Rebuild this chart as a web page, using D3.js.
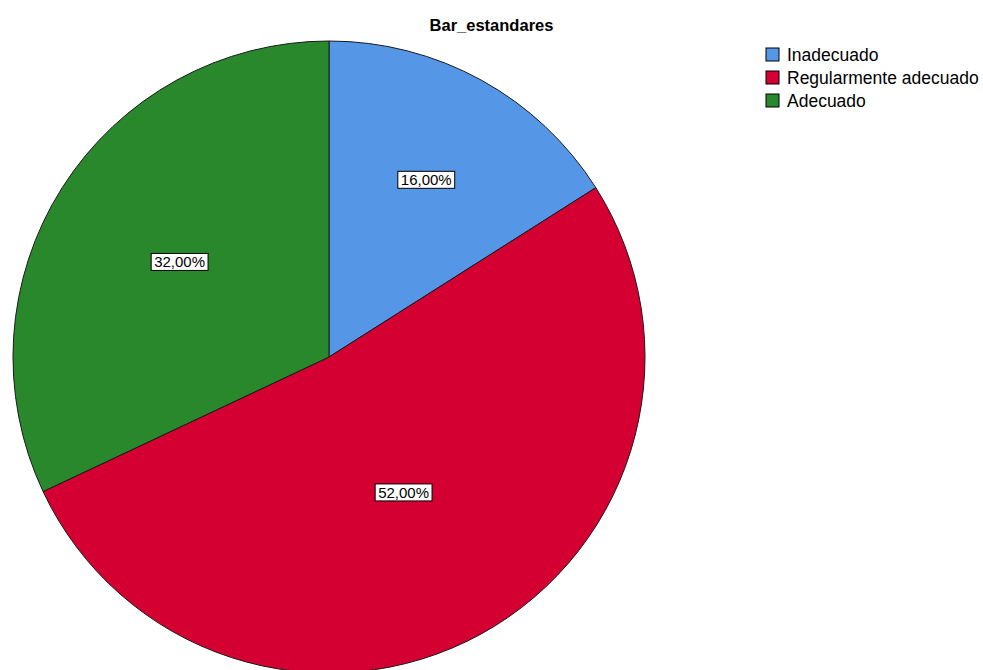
<!DOCTYPE html>
<html>
<head>
<meta charset="utf-8">
<script src="https://cdn.jsdelivr.net/npm/d3@7"></script>
<style>
  html, body { margin: 0; padding: 0; background: #ffffff; }
  svg { display: block; font-family: "Liberation Sans", Arial, sans-serif; }
</style>
</head>
<body>
<svg id="chart" width="983" height="670"></svg>
<script>
// Categories, shares (percent) and slice colours
const categories = ["Inadecuado", "Regularmente adecuado", "Adecuado"];
const percentages = [16.00, 52.00, 32.00];
const colors = ["#5596e6", "#d40032", "#2a882c"];
const chartTitle = "Bar_estandares";

const width = 983, height = 670;
const cx = 329, cy = 357, radius = 316;

const svg = d3.select("#chart");

// Title
svg.append("text")
  .attr("x", width / 2)
  .attr("y", 31)
  .attr("text-anchor", "middle")
  .attr("font-weight", "bold")
  .attr("font-size", 16.5)
  .attr("fill", "#000")
  .text(chartTitle);

const data = categories.map((c, i) => ({ category: c, value: percentages[i], color: colors[i] }));

const pie = d3.pie().sort(null).value(d => d.value);
const arcs = pie(data);
const arc = d3.arc().innerRadius(0).outerRadius(radius);

const g = svg.append("g").attr("transform", `translate(${cx},${cy})`);

g.selectAll("path.slice")
  .data(arcs)
  .join("path")
  .attr("class", "slice")
  .attr("d", arc)
  .attr("fill", d => d.data.color)
  .attr("stroke", "#1a1a1a")
  .attr("stroke-width", 1);

// Value labels sit near the slice's area centroid, never closer than ~half the radius
const fmt = v => v.toFixed(2).replace(".", ",") + "%";
function labelPos(d) {
  const mid = (d.startAngle + d.endAngle) / 2;
  const half = (d.endAngle - d.startAngle) / 2;
  const k = Math.max((2 / 3) * Math.sin(half) / half, 0.49);
  const dist = radius * k;
  return [dist * Math.sin(mid), -dist * Math.cos(mid)];
}

const labels = g.selectAll("g.lbl")
  .data(arcs)
  .join("g")
  .attr("class", "lbl")
  .attr("transform", d => `translate(${labelPos(d)})`);

labels.each(function(d) {
  const sel = d3.select(this);
  const t = sel.append("text")
    .attr("text-anchor", "middle")
    .attr("dy", "0.35em")
    .attr("font-size", 15)
    .attr("fill", "#000")
    .text(fmt(d.data.value));
  const bb = t.node().getBBox();
  sel.insert("rect", "text")
    .attr("x", bb.x - 3)
    .attr("y", bb.y)
    .attr("width", bb.width + 6)
    .attr("height", bb.height)
    .attr("fill", "#fff")
    .attr("stroke", "#000")
    .attr("stroke-width", 1);
});

// Legend
const legend = svg.append("g").attr("transform", "translate(766,48)");
const rowH = 23;
const item = legend.selectAll("g.item")
  .data(data)
  .join("g")
  .attr("class", "item")
  .attr("transform", (d, i) => `translate(0,${i * rowH})`);

item.append("rect")
  .attr("width", 13)
  .attr("height", 13)
  .attr("fill", d => d.color)
  .attr("stroke", "#000")
  .attr("stroke-width", 1);

item.append("text")
  .attr("x", 21)
  .attr("y", 7)
  .attr("dy", "0.35em")
  .attr("font-size", 17.5)
  .attr("fill", "#000")
  .text(d => d.category);
</script>
</body>
</html>
